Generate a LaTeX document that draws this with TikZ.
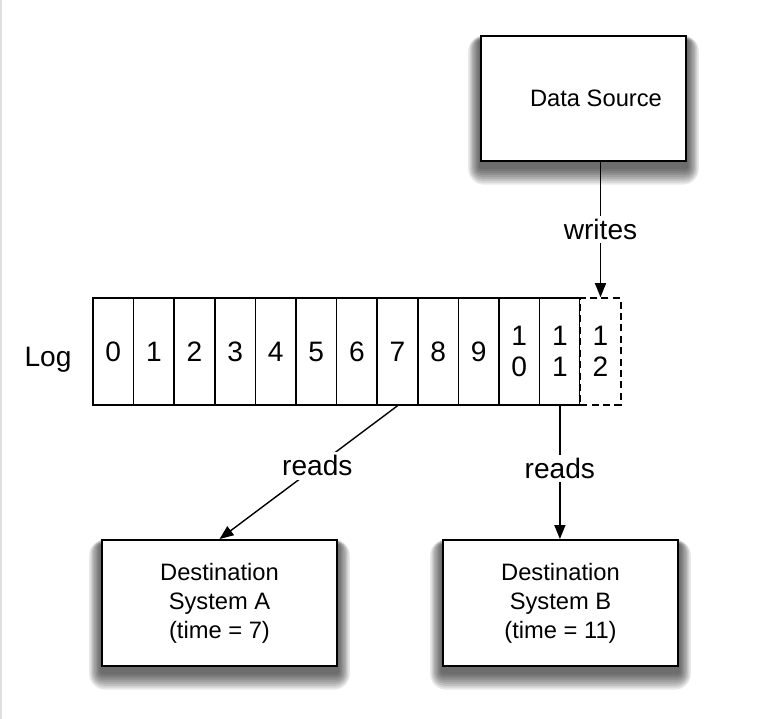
\documentclass[tikz,border=0pt]{standalone}
\usepackage{fontspec}
\setmainfont{Liberation Sans}
\usetikzlibrary{arrows.meta,positioning,backgrounds}

\tikzset{
  sysbox/.style={draw, line width=1.1pt, fill=white, minimum width=4.7cm, minimum height=2.52cm,
    align=center, font=\fontsize{13.5}{16.5}\selectfont},
  cell/.style={draw, line width=0.9pt, minimum width=0.812cm, minimum height=2.14cm,
    align=center, inner sep=0pt, font=\fontsize{16}{17.6}\selectfont},
  lbl/.style={fill=white, font=\fontsize{16}{19}\selectfont, inner sep=2pt},
}

% soft shadow behind a box
\newcommand{\softshadow}[1]{%
  \begin{scope}[on background layer]
    \foreach \d in {1,...,9}
      \fill[black, opacity=0.09, rounded corners=\d pt]
        ([shift={(-0.75*\d pt,-3pt-1.1*\d pt)}]#1.south west) rectangle
        ([shift={(0.75*\d pt,-3pt+0.3*\d pt)}]#1.north east);
  \end{scope}}

\begin{document}
\begin{tikzpicture}[x=0.02cm, y=-0.02cm, >={Triangle[length=0.28cm,width=0.22cm]}, line width=0.8pt]
    \useasboundingbox (0,0) rectangle (761,719);
    \draw[black!12, line width=1pt] (1,0) -- (1,719);

    \node[sysbox, minimum width=4.1cm, minimum height=2.5cm] (src) at (583.5,98.5) {\hspace*{0.5cm}Data Source};
    \node[sysbox] (dA) at (219.5,603) {Destination\\System A\\(time = 7)};
    \node[sysbox] (dB) at (560.5,603) {Destination\\System B\\(time = 11)};
    \softshadow{src}
    \softshadow{dA}
    \softshadow{dB}

    % the log
    \node[lbl, fill=none] (log) at (48,360) {Log};
    \foreach \i/\t in {0/0,1/1,2/2,3/3,4/4,5/5,6/6,7/7,8/8,9/9,10/{1\\0},11/{1\\1}}
        \node[cell] (c\i) at ({113.3+40.6*\i},351.5) {\t};
    \node[cell, fill=white, dash pattern=on 4pt off 2.5pt] (c12) at (600.5,351.5) {1\\2};

    \draw[->] (src.south -| c12.north) -- node[lbl] {writes} (c12.north);
    \draw[->] (c7.south) -- node[lbl, pos=0.45] {reads} (dA.north);
    \draw[->] (c11.south) -- node[lbl, pos=0.47] {reads} (c11.south |- dB.north);
\end{tikzpicture}
\end{document}
